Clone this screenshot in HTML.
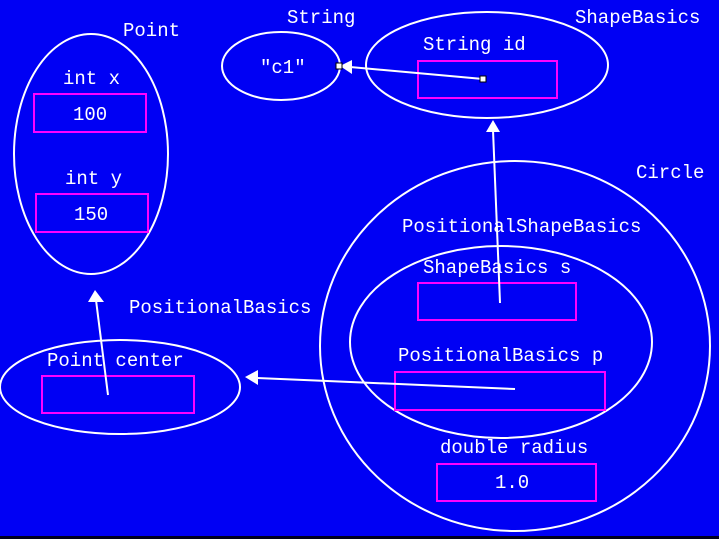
<!DOCTYPE html>
<html><head><meta charset="utf-8"><style>
html,body{margin:0;padding:0;background:#0000f4;}
svg{display:block}
text{font-family:"Liberation Mono","DejaVu Sans Mono",monospace;font-size:19px;fill:#fff;}
</style></head><body>
<svg width="719" height="539" viewBox="0 0 719 539">
<rect x="0" y="0" width="719" height="539" fill="#0000f4"/>
<rect x="0" y="536" width="719" height="3" fill="#000020"/>
<g fill="none" stroke="#fff" stroke-width="2">
<ellipse cx="91" cy="154" rx="77" ry="120"/>
<ellipse cx="281" cy="66" rx="59" ry="34"/>
<ellipse cx="487" cy="65" rx="121" ry="53"/>
<ellipse cx="515" cy="346" rx="195" ry="185"/>
<ellipse cx="501" cy="342" rx="151" ry="96"/>
<ellipse cx="120" cy="387" rx="120" ry="47"/>
</g>
<g fill="none" stroke="#ff00ff" stroke-width="2">
<rect x="34" y="94" width="112" height="38"/>
<rect x="36" y="194" width="112" height="38"/>
<rect x="418" y="61" width="139" height="37"/>
<rect x="418" y="283" width="158" height="37"/>
<rect x="395" y="372" width="210" height="38"/>
<rect x="437" y="464" width="159" height="37"/>
<rect x="42" y="376" width="152" height="37"/>
</g>
<g stroke="#fff" stroke-width="2" fill="#fff">
<line x1="500" y1="303" x2="493" y2="130"/>
<polygon points="493,120 486,132 500,132" stroke="none"/>
<line x1="515" y1="389" x2="257" y2="378"/>
<polygon points="245,377 258,370 258,385" stroke="none"/>
<line x1="108" y1="395" x2="96" y2="300"/>
<polygon points="95,290 88,302 104,302" stroke="none"/>
<line x1="483" y1="79" x2="350" y2="67"/>
<polygon points="340,66 352,60 352,74" stroke="none"/>
</g>
<rect x="480" y="76" width="6" height="6" fill="#fff" stroke="#000" stroke-width="1"/>
<rect x="336" y="63" width="6" height="6" fill="#fff" stroke="#000" stroke-width="1"/>
<text x="123" y="36">Point</text>
<text x="63" y="84">int x</text>
<text x="73" y="120">100</text>
<text x="65" y="184">int y</text>
<text x="74" y="220">150</text>
<text x="287" y="23">String</text>
<text x="260" y="73">"c1"</text>
<text x="575" y="23">ShapeBasics</text>
<text x="423" y="50">String id</text>
<text x="636" y="178">Circle</text>
<text x="402" y="232">PositionalShapeBasics</text>
<text x="423" y="273">ShapeBasics s</text>
<text x="398" y="361">PositionalBasics p</text>
<text x="440" y="453">double radius</text>
<text x="495" y="488">1.0</text>
<text x="129" y="313">PositionalBasics</text>
<text x="47" y="366">Point center</text>
</svg>
</body></html>
